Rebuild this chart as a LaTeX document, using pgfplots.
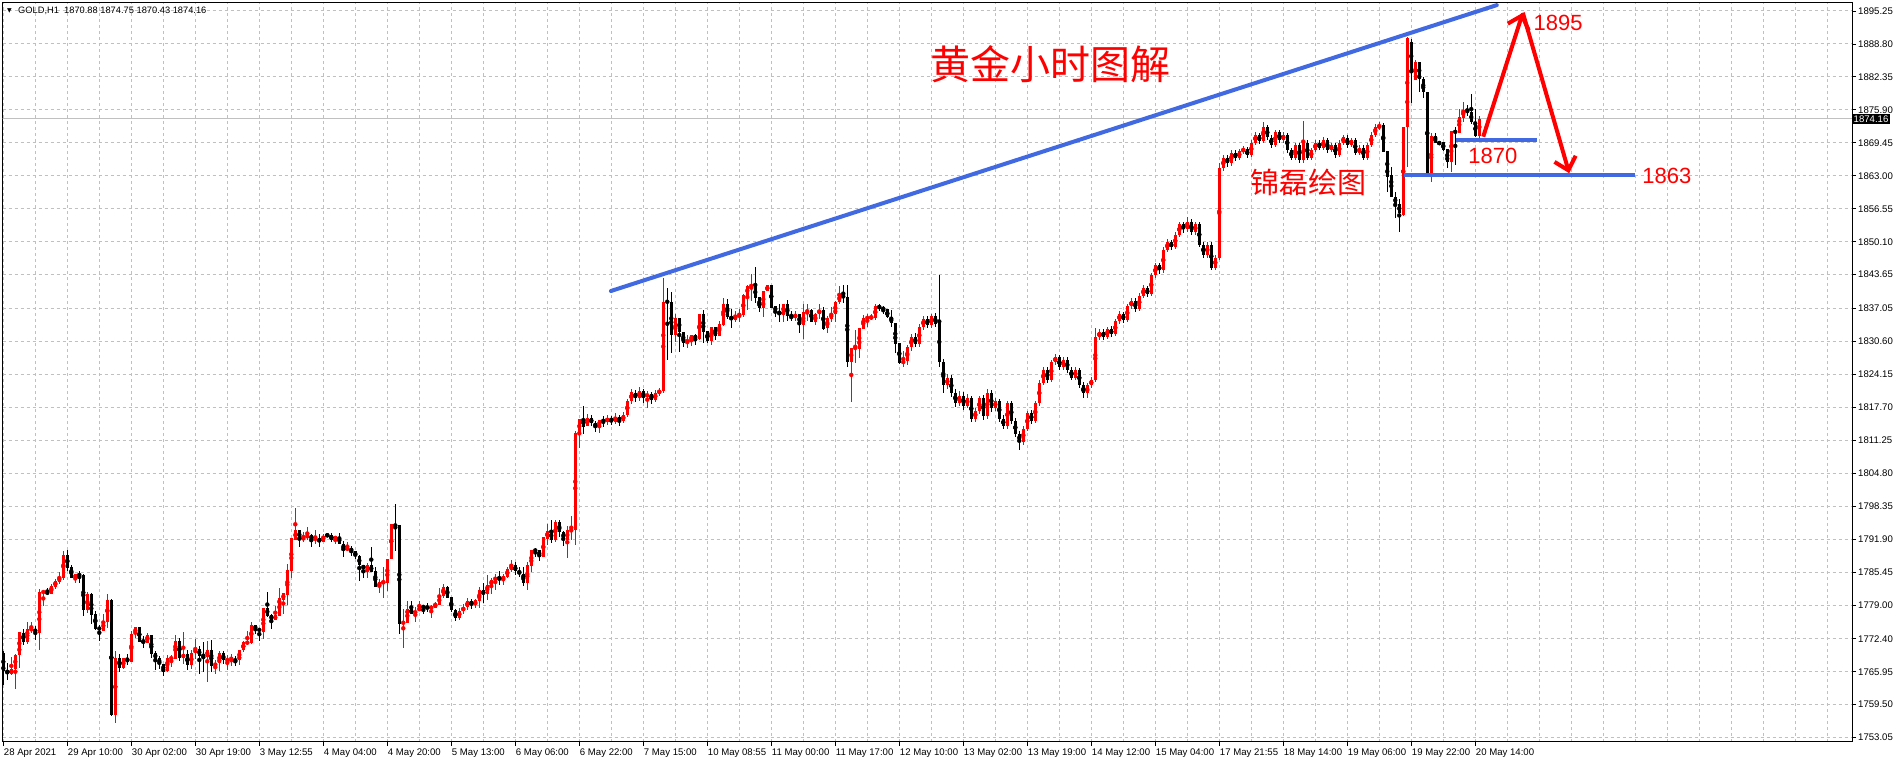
\documentclass[border=0pt]{standalone}
\usepackage{fontspec}
\setmainfont{Liberation Sans}
\newfontfamily\cjk{Noto Sans CJK SC}
\newfontfamily\dejavu{DejaVu Sans}
\usepackage{pgfplots}
\usepackage{pgfplotstable}
\pgfplotsset{compat=1.18}
\usetikzlibrary{arrows.meta}
\definecolor{trendblue}{RGB}{65,105,225}
\definecolor{gridgray}{RGB}{192,192,192}
\definecolor{upred}{RGB}{255,0,0}

\pgfplotstableread{
k O H L C
0 1769.7 1770.0 1763.3 1766.1
1 1766.1 1767.6 1764.3 1765.6
2 1765.5 1768.8 1765.4 1766.5
3 1766.5 1769.4 1762.5 1769.3
4 1769.3 1773.8 1766.7 1773.7
5 1773.5 1774.4 1771.1 1771.8
6 1771.8 1775.7 1771.3 1774.3
7 1774.1 1775.7 1773.6 1774.4
8 1774.4 1774.9 1772.2 1773.6
9 1773.6 1782.2 1770.3 1781.6
10 1781.4 1781.7 1778.9 1781.7
11 1781.7 1782.4 1780.9 1781.1
12 1781.2 1783.2 1781.1 1782.7
13 1782.6 1784.0 1782.2 1783.8
14 1783.6 1785.4 1783.2 1784.5
15 1784.3 1789.5 1784.0 1788.8
16 1788.8 1789.7 1785.6 1786.3
17 1786.4 1786.9 1784.3 1784.3
18 1784.3 1785.0 1783.4 1785.0
19 1785.1 1785.6 1783.4 1784.7
20 1784.9 1785.0 1776.9 1778.0
21 1778.0 1781.5 1777.5 1781.2
22 1781.2 1781.4 1775.3 1777.0
23 1777.3 1777.8 1774.2 1774.4
24 1774.7 1775.2 1772.0 1774.1
25 1774.0 1777.3 1773.9 1775.9
26 1775.7 1781.2 1774.6 1780.0
27 1780.0 1780.1 1757.3 1757.5
28 1757.4 1770.0 1756.0 1768.6
29 1768.6 1769.5 1765.9 1766.7
30 1766.7 1768.7 1766.4 1768.6
31 1768.5 1769.4 1767.3 1767.9
32 1767.9 1773.9 1767.9 1773.3
33 1773.3 1774.7 1772.5 1774.7
34 1774.7 1774.7 1771.8 1771.8
35 1772.1 1772.9 1770.7 1771.7
36 1771.6 1773.5 1771.6 1773.1
37 1773.1 1773.1 1768.6 1769.5
38 1769.6 1770.1 1766.3 1768.5
39 1768.7 1769.0 1766.4 1767.4
40 1767.5 1767.5 1765.1 1766.0
41 1766.0 1769.3 1766.0 1768.7
42 1768.5 1769.3 1766.8 1768.7
43 1768.5 1773.2 1768.5 1772.0
44 1772.0 1772.6 1768.1 1768.7
45 1768.7 1773.8 1767.5 1769.4
46 1769.5 1770.2 1766.3 1767.2
47 1767.2 1770.2 1766.4 1769.7
48 1769.6 1772.4 1768.4 1770.4
49 1770.4 1771.0 1765.5 1769.1
50 1769.3 1771.8 1765.8 1768.9
51 1768.9 1772.0 1764.0 1770.2
52 1770.2 1772.2 1765.9 1767.0
53 1767.0 1768.2 1765.5 1767.7
54 1767.7 1770.1 1766.1 1769.6
55 1769.6 1770.0 1767.4 1768.2
56 1768.2 1769.2 1766.2 1768.3
57 1768.1 1769.4 1767.0 1768.9
58 1768.5 1769.0 1767.0 1767.9
59 1768.3 1770.2 1767.2 1770.2
60 1770.2 1772.0 1769.8 1771.7
61 1771.5 1773.9 1771.2 1771.8
62 1771.5 1775.6 1771.3 1775.1
63 1775.1 1775.1 1773.4 1774.2
64 1774.4 1774.6 1772.0 1773.9
65 1773.8 1778.5 1772.3 1778.5
66 1778.5 1781.5 1776.7 1776.9
67 1777.1 1777.3 1774.4 1776.1
68 1776.1 1778.9 1776.1 1777.0
69 1776.9 1782.4 1776.9 1780.3
70 1780.0 1781.3 1777.3 1781.3
71 1781.0 1787.0 1779.0 1785.9
72 1785.7 1792.2 1784.2 1792.2
73 1791.7 1797.9 1791.7 1793.7
74 1793.7 1793.7 1790.3 1791.9
75 1791.8 1793.3 1791.4 1792.3
76 1792.2 1794.3 1791.7 1792.7
77 1792.7 1793.0 1790.4 1791.8
78 1791.8 1793.6 1790.9 1792.1
79 1792.1 1793.0 1790.3 1791.3
80 1791.4 1793.0 1791.4 1792.6
81 1792.7 1792.8 1792.5 1792.6
82 1792.7 1793.1 1791.4 1791.8
83 1791.8 1792.5 1791.0 1792.5
84 1792.4 1793.1 1791.0 1791.0
85 1791.0 1791.5 1788.4 1789.8
86 1789.8 1791.3 1789.6 1790.2
87 1790.2 1790.5 1788.6 1789.4
88 1789.6 1789.6 1788.1 1788.5
89 1788.6 1788.8 1783.7 1786.8
90 1786.9 1786.9 1784.3 1786.0
91 1786.0 1787.3 1784.3 1786.8
92 1786.8 1790.3 1785.5 1785.5
93 1785.6 1786.4 1782.5 1782.5
94 1782.5 1784.2 1781.4 1783.5
95 1783.4 1786.5 1780.4 1783.5
96 1783.4 1788.1 1781.7 1788.1
97 1788.1 1794.9 1788.1 1794.9
98 1794.9 1798.8 1789.6 1794.3
99 1794.6 1794.6 1773.4 1775.3
100 1775.3 1778.3 1770.6 1775.8
101 1775.5 1779.8 1775.5 1778.3
102 1778.3 1779.8 1777.3 1777.3
103 1777.3 1778.6 1775.6 1777.9
104 1777.8 1779.8 1777.8 1778.6
105 1778.8 1778.8 1777.3 1778.5
106 1778.6 1779.4 1777.6 1778.5
107 1778.3 1779.1 1776.5 1778.7
108 1778.5 1779.6 1778.5 1779.2
109 1779.0 1782.4 1779.0 1780.9
110 1780.7 1783.2 1780.4 1782.5
111 1782.5 1782.8 1780.3 1780.3
112 1780.5 1780.5 1777.6 1778.0
113 1778.0 1778.3 1775.8 1776.5
114 1776.5 1778.5 1776.0 1777.8
115 1777.8 1779.3 1777.2 1778.6
116 1778.6 1780.3 1778.0 1779.8
117 1779.8 1780.2 1778.3 1779.0
118 1779.0 1780.1 1778.5 1779.9
119 1779.8 1782.6 1778.5 1781.9
120 1781.9 1783.3 1779.5 1781.1
121 1781.1 1784.8 1779.9 1783.0
122 1782.8 1784.3 1781.1 1784.0
123 1784.0 1785.1 1781.9 1784.3
124 1784.3 1785.6 1783.0 1784.0
125 1784.0 1785.1 1783.0 1784.6
126 1784.5 1786.4 1784.2 1786.1
127 1785.9 1787.9 1785.5 1786.8
128 1786.8 1787.5 1784.8 1785.6
129 1785.7 1786.4 1784.5 1785.0
130 1785.1 1786.4 1782.8 1783.3
131 1783.3 1787.4 1781.9 1786.8
132 1786.6 1789.8 1785.5 1789.8
133 1789.8 1790.2 1788.4 1789.6
134 1789.8 1789.8 1787.7 1788.4
135 1788.4 1792.4 1788.4 1792.3
136 1792.0 1794.9 1790.7 1793.5
137 1793.5 1795.6 1791.1 1791.7
138 1791.7 1795.7 1791.4 1795.2
139 1795.2 1795.7 1792.3 1793.3
140 1793.4 1793.4 1790.5 1791.8
141 1791.8 1794.4 1788.2 1793.6
142 1793.5 1796.5 1791.8 1793.7
143 1793.6 1813.0 1790.7 1812.7
144 1812.5 1815.5 1809.7 1815.5
145 1815.5 1817.9 1812.5 1813.9
146 1814.0 1816.4 1814.0 1815.6
147 1815.6 1816.1 1814.0 1814.6
148 1814.7 1815.1 1812.9 1813.8
149 1813.8 1815.3 1812.7 1815.3
150 1815.3 1815.9 1813.8 1814.8
151 1814.8 1816.2 1814.3 1815.6
152 1815.6 1816.0 1814.2 1814.9
153 1814.9 1816.5 1814.5 1815.8
154 1815.8 1816.1 1814.0 1815.0
155 1815.0 1816.8 1814.6 1816.2
156 1816.2 1819.4 1815.8 1818.9
157 1818.9 1821.3 1818.3 1820.6
158 1820.6 1821.0 1818.8 1819.5
159 1819.5 1821.6 1819.0 1820.8
160 1820.8 1821.2 1818.6 1819.8
161 1819.8 1820.9 1817.5 1820.3
162 1820.3 1820.7 1818.4 1819.2
163 1819.2 1821.0 1818.8 1820.5
164 1820.5 1821.5 1820.0 1820.9
165 1820.9 1843.1 1820.5 1838.3
166 1838.5 1841.1 1827.0 1838.2
167 1838.3 1840.3 1828.4 1831.9
168 1831.9 1835.9 1830.5 1835.1
169 1835.1 1835.1 1828.6 1832.5
170 1832.5 1832.5 1829.4 1830.2
171 1830.2 1831.9 1829.4 1830.7
172 1830.6 1831.9 1829.7 1831.9
173 1831.9 1832.1 1829.9 1831.0
174 1831.0 1835.9 1830.8 1835.9
175 1835.9 1836.7 1830.3 1832.5
176 1832.7 1832.7 1830.3 1830.6
177 1830.6 1833.5 1829.9 1833.5
178 1833.5 1833.5 1830.9 1831.7
179 1831.7 1834.6 1831.7 1834.0
180 1833.8 1839.0 1833.6 1837.9
181 1837.9 1838.9 1835.0 1835.3
182 1835.4 1836.9 1833.3 1835.0
183 1834.8 1836.6 1834.3 1835.7
184 1835.7 1836.9 1834.3 1835.9
185 1835.7 1839.8 1835.4 1839.6
186 1839.5 1841.7 1836.8 1841.5
187 1841.4 1843.7 1838.5 1841.5
188 1841.5 1845.2 1838.1 1839.0
189 1839.2 1839.2 1836.4 1837.2
190 1837.2 1840.5 1835.3 1840.5
191 1840.4 1841.6 1840.4 1841.6
192 1841.6 1841.6 1837.2 1837.2
193 1837.5 1837.5 1835.3 1836.4
194 1836.6 1837.9 1834.3 1835.8
195 1835.8 1838.0 1834.3 1838.0
196 1838.0 1838.6 1834.6 1835.5
197 1835.6 1836.6 1834.6 1835.1
198 1835.1 1836.6 1834.6 1836.0
199 1836.0 1836.0 1832.3 1833.8
200 1833.8 1838.0 1831.1 1836.4
201 1836.2 1837.9 1834.6 1836.8
202 1836.8 1837.0 1834.3 1834.4
203 1834.4 1836.2 1833.9 1836.0
204 1835.9 1838.0 1834.9 1836.8
205 1836.8 1837.3 1832.8 1833.1
206 1833.3 1835.6 1832.3 1835.1
207 1835.0 1837.3 1834.3 1836.0
208 1835.9 1838.6 1834.3 1838.4
209 1838.4 1841.5 1837.9 1839.6
210 1839.6 1841.7 1838.2 1839.2
211 1839.3 1841.7 1825.6 1826.5
212 1826.5 1829.3 1818.8 1829.3
213 1829.2 1832.8 1826.3 1829.4
214 1829.2 1833.3 1827.4 1833.3
215 1833.1 1835.8 1833.0 1835.1
216 1835.1 1835.9 1833.4 1835.3
217 1835.1 1835.9 1834.7 1835.4
218 1835.1 1838.0 1834.7 1837.5
219 1837.5 1838.0 1836.6 1837.1
220 1837.2 1837.5 1835.9 1836.8
221 1836.9 1836.9 1835.1 1835.3
222 1835.4 1836.7 1833.4 1834.1
223 1834.2 1834.2 1828.4 1830.0
224 1830.2 1830.2 1826.1 1826.3
225 1826.3 1828.7 1825.6 1826.8
226 1826.8 1829.9 1826.0 1829.5
227 1829.5 1832.0 1828.8 1831.5
228 1831.5 1832.2 1829.5 1830.0
229 1830.0 1834.0 1829.6 1833.5
230 1833.5 1835.6 1832.8 1835.0
231 1835.0 1835.5 1833.2 1833.8
232 1833.8 1836.0 1833.3 1835.5
233 1835.5 1836.1 1833.5 1834.0
234 1834.5 1843.5 1825.5 1826.5
235 1826.5 1827.2 1820.5 1822.0
236 1822.0 1824.3 1821.2 1823.5
237 1823.5 1824.0 1819.8 1820.5
238 1820.5 1821.3 1817.8 1818.5
239 1818.5 1820.8 1817.9 1820.0
240 1820.0 1820.6 1817.2 1818.0
241 1818.0 1820.2 1817.5 1819.5
242 1819.5 1820.0 1814.8 1815.5
243 1815.5 1817.5 1814.9 1817.0
244 1817.0 1820.0 1816.4 1819.5
245 1819.5 1820.1 1815.2 1816.0
246 1816.0 1821.2 1815.4 1820.5
247 1820.5 1821.0 1816.8 1817.5
248 1817.5 1819.6 1816.9 1819.0
249 1819.0 1819.4 1814.9 1815.5
250 1815.5 1816.2 1813.4 1814.0
251 1814.0 1819.0 1813.5 1818.5
252 1818.5 1819.0 1814.4 1815.0
253 1815.0 1815.6 1811.9 1812.5
254 1812.5 1813.0 1809.3 1811.0
255 1811.0 1814.0 1810.4 1813.5
256 1813.5 1817.0 1813.0 1816.5
257 1816.5 1817.2 1814.4 1815.0
258 1815.0 1819.0 1814.6 1818.5
259 1818.5 1823.0 1818.0 1822.5
260 1822.5 1825.6 1822.0 1825.0
261 1825.0 1825.6 1822.5 1823.0
262 1823.0 1827.0 1822.6 1826.5
263 1826.5 1828.2 1826.0 1827.5
264 1827.5 1828.0 1825.0 1825.5
265 1825.5 1827.6 1825.0 1827.0
266 1827.0 1827.5 1824.5 1825.0
267 1825.0 1825.6 1823.0 1823.5
268 1823.5 1825.6 1823.0 1825.0
269 1825.0 1825.4 1821.5 1822.0
270 1822.0 1822.6 1819.6 1820.5
271 1820.5 1822.5 1819.6 1822.0
272 1822.0 1823.6 1821.5 1823.0
273 1823.0 1833.2 1822.6 1831.5
274 1831.5 1833.0 1830.8 1832.5
275 1832.5 1833.0 1830.8 1831.5
276 1831.5 1833.5 1831.0 1833.0
277 1833.0 1833.6 1831.4 1832.0
278 1832.0 1835.0 1831.6 1834.5
279 1834.5 1836.6 1834.0 1836.0
280 1836.0 1836.4 1834.2 1834.8
281 1834.8 1838.0 1834.4 1837.5
282 1837.5 1839.0 1837.0 1838.5
283 1838.5 1839.0 1836.4 1837.0
284 1837.0 1840.0 1836.5 1839.5
285 1839.5 1841.6 1839.0 1841.0
286 1841.0 1841.5 1839.2 1839.8
287 1839.8 1844.0 1839.4 1843.5
288 1843.5 1846.0 1843.0 1845.5
289 1845.5 1846.0 1843.8 1844.5
290 1844.5 1849.0 1844.0 1848.5
291 1848.5 1850.6 1848.0 1850.0
292 1850.0 1850.5 1848.4 1849.0
293 1849.0 1852.0 1848.6 1851.5
294 1851.5 1854.0 1851.0 1853.5
295 1853.5 1854.0 1851.8 1852.5
296 1852.5 1855.0 1852.0 1854.0
297 1854.0 1854.5 1851.4 1852.0
298 1852.0 1854.0 1851.5 1853.5
299 1853.5 1854.0 1849.0 1849.5
300 1849.5 1850.0 1847.0 1847.5
301 1847.5 1850.0 1847.0 1849.5
302 1849.5 1850.0 1844.5 1845.0
303 1845.0 1847.5 1844.6 1847.0
304 1847.0 1865.5 1846.5 1864.5
305 1864.5 1867.0 1864.0 1866.5
306 1866.5 1867.0 1864.8 1865.5
307 1865.5 1868.0 1865.0 1867.5
308 1867.5 1868.0 1865.8 1866.5
309 1866.5 1868.3 1866.0 1867.8
310 1867.8 1868.8 1867.3 1868.2
311 1868.2 1868.6 1866.4 1867.0
312 1867.0 1870.0 1866.6 1869.5
313 1869.5 1871.6 1869.0 1871.0
314 1871.0 1871.4 1869.2 1869.8
315 1869.8 1873.5 1869.4 1872.5
316 1872.5 1873.0 1870.0 1870.5
317 1870.5 1871.0 1868.5 1869.0
318 1869.0 1872.0 1868.6 1871.5
319 1871.5 1872.0 1869.5 1870.0
320 1870.0 1871.6 1869.5 1871.0
321 1871.0 1871.4 1867.5 1868.0
322 1868.0 1868.5 1866.0 1866.5
323 1866.5 1869.5 1866.0 1869.0
324 1869.0 1869.4 1865.5 1866.0
325 1866.0 1873.8 1865.6 1869.5
326 1869.5 1870.0 1866.0 1866.5
327 1866.5 1868.5 1866.0 1868.0
328 1868.0 1870.0 1867.6 1869.5
329 1869.5 1870.0 1868.0 1868.5
330 1868.5 1870.5 1868.0 1870.0
331 1870.0 1870.4 1867.5 1868.0
332 1868.0 1869.5 1867.6 1869.0
333 1869.0 1869.4 1866.5 1867.0
334 1867.0 1870.0 1866.6 1869.5
335 1869.5 1871.0 1869.0 1870.5
336 1870.5 1871.0 1868.5 1869.0
337 1869.0 1870.5 1868.6 1870.0
338 1870.0 1870.5 1867.0 1867.5
339 1867.5 1869.0 1867.0 1868.5
340 1868.5 1869.0 1866.0 1866.5
341 1866.5 1869.5 1866.0 1869.0
342 1869.0 1871.5 1868.6 1871.0
343 1871.0 1873.2 1870.6 1872.5
344 1872.3 1873.5 1872.0 1872.9
345 1872.9 1873.3 1867.7 1867.7
346 1867.8 1867.8 1859.9 1862.8
347 1863.2 1864.8 1858.8 1858.8
348 1858.9 1859.9 1854.7 1857.5
349 1857.5 1858.4 1852.1 1855.7
350 1855.3 1872.5 1855.1 1872.5
351 1872.5 1890.1 1864.8 1889.9
352 1889.2 1889.7 1877.2 1883.6
353 1881.7 1885.7 1881.7 1885.3
354 1885.3 1885.3 1879.5 1881.9
355 1881.9 1882.4 1878.2 1879.5
356 1879.5 1879.5 1863.2 1863.2
357 1863.5 1871.4 1861.8 1870.8
358 1870.7 1871.4 1869.4 1869.4
359 1869.5 1869.6 1869.2 1869.3
360 1869.7 1869.7 1867.8 1868.0
361 1868.2 1868.2 1864.5 1865.8
362 1865.8 1871.8 1863.8 1871.8
363 1871.8 1872.6 1865.1 1871.4
364 1871.4 1876.0 1871.4 1874.6
365 1874.4 1877.5 1873.6 1875.9
366 1875.9 1876.9 1874.7 1875.4
367 1875.4 1879.0 1873.1 1873.6
368 1873.6 1876.0 1870.5 1870.8
369 1870.88 1874.75 1870.43 1874.16
}\candles

\begin{document}
\begin{tikzpicture}
\path[use as bounding box] (0,0) rectangle (1898pt,760pt);
\begin{axis}[
  at={(2.7pt,18pt)}, anchor=south west,
  scale only axis, width=1849.3pt, height=739.3pt,
  xmin=-0.15, xmax=462.2, ymin=1752.2, ymax=1896.87,
  clip mode=individual,
  axis line style={black, line width=1pt},
  xtick={0,16,...,368},
  xticklabels={28 Apr 2021, 29 Apr 10:00, 30 Apr 02:00, 30 Apr 19:00, 3 May 12:55, 4 May 04:00, 4 May 20:00, 5 May 13:00, 6 May 06:00, 6 May 22:00, 7 May 15:00, 10 May 08:55, 11 May 00:00, 11 May 17:00, 12 May 10:00, 13 May 02:00, 13 May 19:00, 14 May 12:00, 15 May 04:00, 17 May 21:55, 18 May 14:00, 19 May 06:00, 19 May 22:00, 20 May 14:00},
  minor xtick={8,16,...,456},
  ytick={1753.05,1759.50,1765.95,1772.40,1779.00,1785.45,1791.90,1798.35,1804.80,1811.25,1817.70,1824.15,1830.60,1837.05,1843.65,1850.10,1856.55,1863.00,1869.45,1875.90,1882.35,1888.80,1895.25},
  yticklabels={1753.05,1759.50,1765.95,1772.40,1779.00,1785.45,1791.90,1798.35,1804.80,1811.25,1817.70,1824.15,1830.60,1837.05,1843.65,1850.10,1856.55,1863.00,1869.45,1875.90,1882.35,1888.80,1895.25},
  xtick pos=left, ytick pos=right, yticklabel pos=right,
  tick align=outside, major tick length=4pt, minor tick length=0pt,
  tick style={black, line width=0.8pt},
  grid=both,
  major grid style={gridgray, dash pattern=on 3pt off 3pt, line width=1pt},
  minor grid style={gridgray, dash pattern=on 3pt off 3pt, line width=1pt},
  tick label style={font=\fontsize{9.6}{10}\selectfont, text=black},
  xticklabel style={anchor=north west, inner sep=0pt, xshift=0.5pt, yshift=-3pt},
  yticklabel style={anchor=west, inner sep=0pt, xshift=2pt},
]
% current price line
\addplot[gridgray, line width=1pt] coordinates {(-1,1874.16) (470,1874.16)};
% red (up) candles
\addplot[only marks, mark=none, upred, restrict y to domain=1740:1900,
  error bars/.cd, y dir=both, y explicit, error mark=none, error bar style={line width=1pt}]
  table[x=k, y expr={\thisrow{C}>\thisrow{O} ? (\thisrow{H}+\thisrow{L})/2 : 1700}, y error expr={(\thisrow{H}-\thisrow{L})/2}] {\candles};
\addplot[only marks, mark=none, upred, restrict y to domain=1740:1900,
  error bars/.cd, y dir=both, y explicit, error mark=none, error bar style={line width=3pt}]
  table[x=k, y expr={\thisrow{C}>\thisrow{O} ? (\thisrow{O}+\thisrow{C})/2 : 1700}, y error expr={max(abs(\thisrow{C}-\thisrow{O})/2,0.1)}] {\candles};
% black (down) candles
\addplot[only marks, mark=none, black, restrict y to domain=1740:1900,
  error bars/.cd, y dir=both, y explicit, error mark=none, error bar style={line width=1pt}]
  table[x=k, y expr={\thisrow{C}<\thisrow{O} ? (\thisrow{H}+\thisrow{L})/2 : 1700}, y error expr={(\thisrow{H}-\thisrow{L})/2}] {\candles};
\addplot[only marks, mark=none, black, restrict y to domain=1740:1900,
  error bars/.cd, y dir=both, y explicit, error mark=none, error bar style={line width=3pt}]
  table[x=k, y expr={\thisrow{C}<\thisrow{O} ? (\thisrow{O}+\thisrow{C})/2 : 1700}, y error expr={max(abs(\thisrow{C}-\thisrow{O})/2,0.1)}] {\candles};
% annotations
\addplot[trendblue, line width=4pt, line cap=round] coordinates {(151.9,1840.45) (373.4,1896.4)};
\addplot[trendblue, line width=4pt] coordinates {(363.2,1870.0) (383.4,1870.0)};
\addplot[trendblue, line width=4pt] coordinates {(350.2,1863.15) (407.9,1863.15)};
\addplot[upred, line width=4pt, -{Straight Barb[length=12pt,width=22pt]}] coordinates {(370.0,1870.65) (379.9,1894.9)};
\addplot[upred, line width=4pt, -{Straight Barb[length=12pt,width=22pt]}] coordinates {(379.9,1894.9) (391.5,1863.5)};
\node[text=upred, font=\fontsize{22}{22}\selectfont] at (axis cs:388.7,1892.9) {1895};
\node[text=upred, font=\fontsize{22}{22}\selectfont] at (axis cs:372.4,1866.9) {1870};
\node[text=upred, font=\fontsize{22}{22}\selectfont] at (axis cs:415.9,1862.96) {1863};
\node[text=upred, font=\cjk\fontsize{40}{40}\selectfont] at (axis cs:261.9,1884.9) {黄金小时图解};
\node[text=upred, font=\cjk\fontsize{29}{29}\selectfont] at (axis cs:326.2,1861.6) {锦磊绘图};
% price box
\node[fill=black, text=white, anchor=west, inner xsep=1.5pt, inner ysep=1.5pt, font=\fontsize{9.6}{10}\selectfont] at (axis cs:462.2,1874.16) {1874.16};
% header
\node[anchor=center, font=\dejavu\fontsize{6}{6}\selectfont] at ([xshift=6.8pt,yshift=-8.3pt]rel axis cs:0,1) {▼};
\node[anchor=west, inner sep=0pt, font=\fontsize{9.3}{10}\selectfont] at ([xshift=15.3pt,yshift=-8.3pt]rel axis cs:0,1) {GOLD,H1\ \ 1870.88 1874.75 1870.43 1874.16};
\end{axis}
\end{tikzpicture}
\end{document}
